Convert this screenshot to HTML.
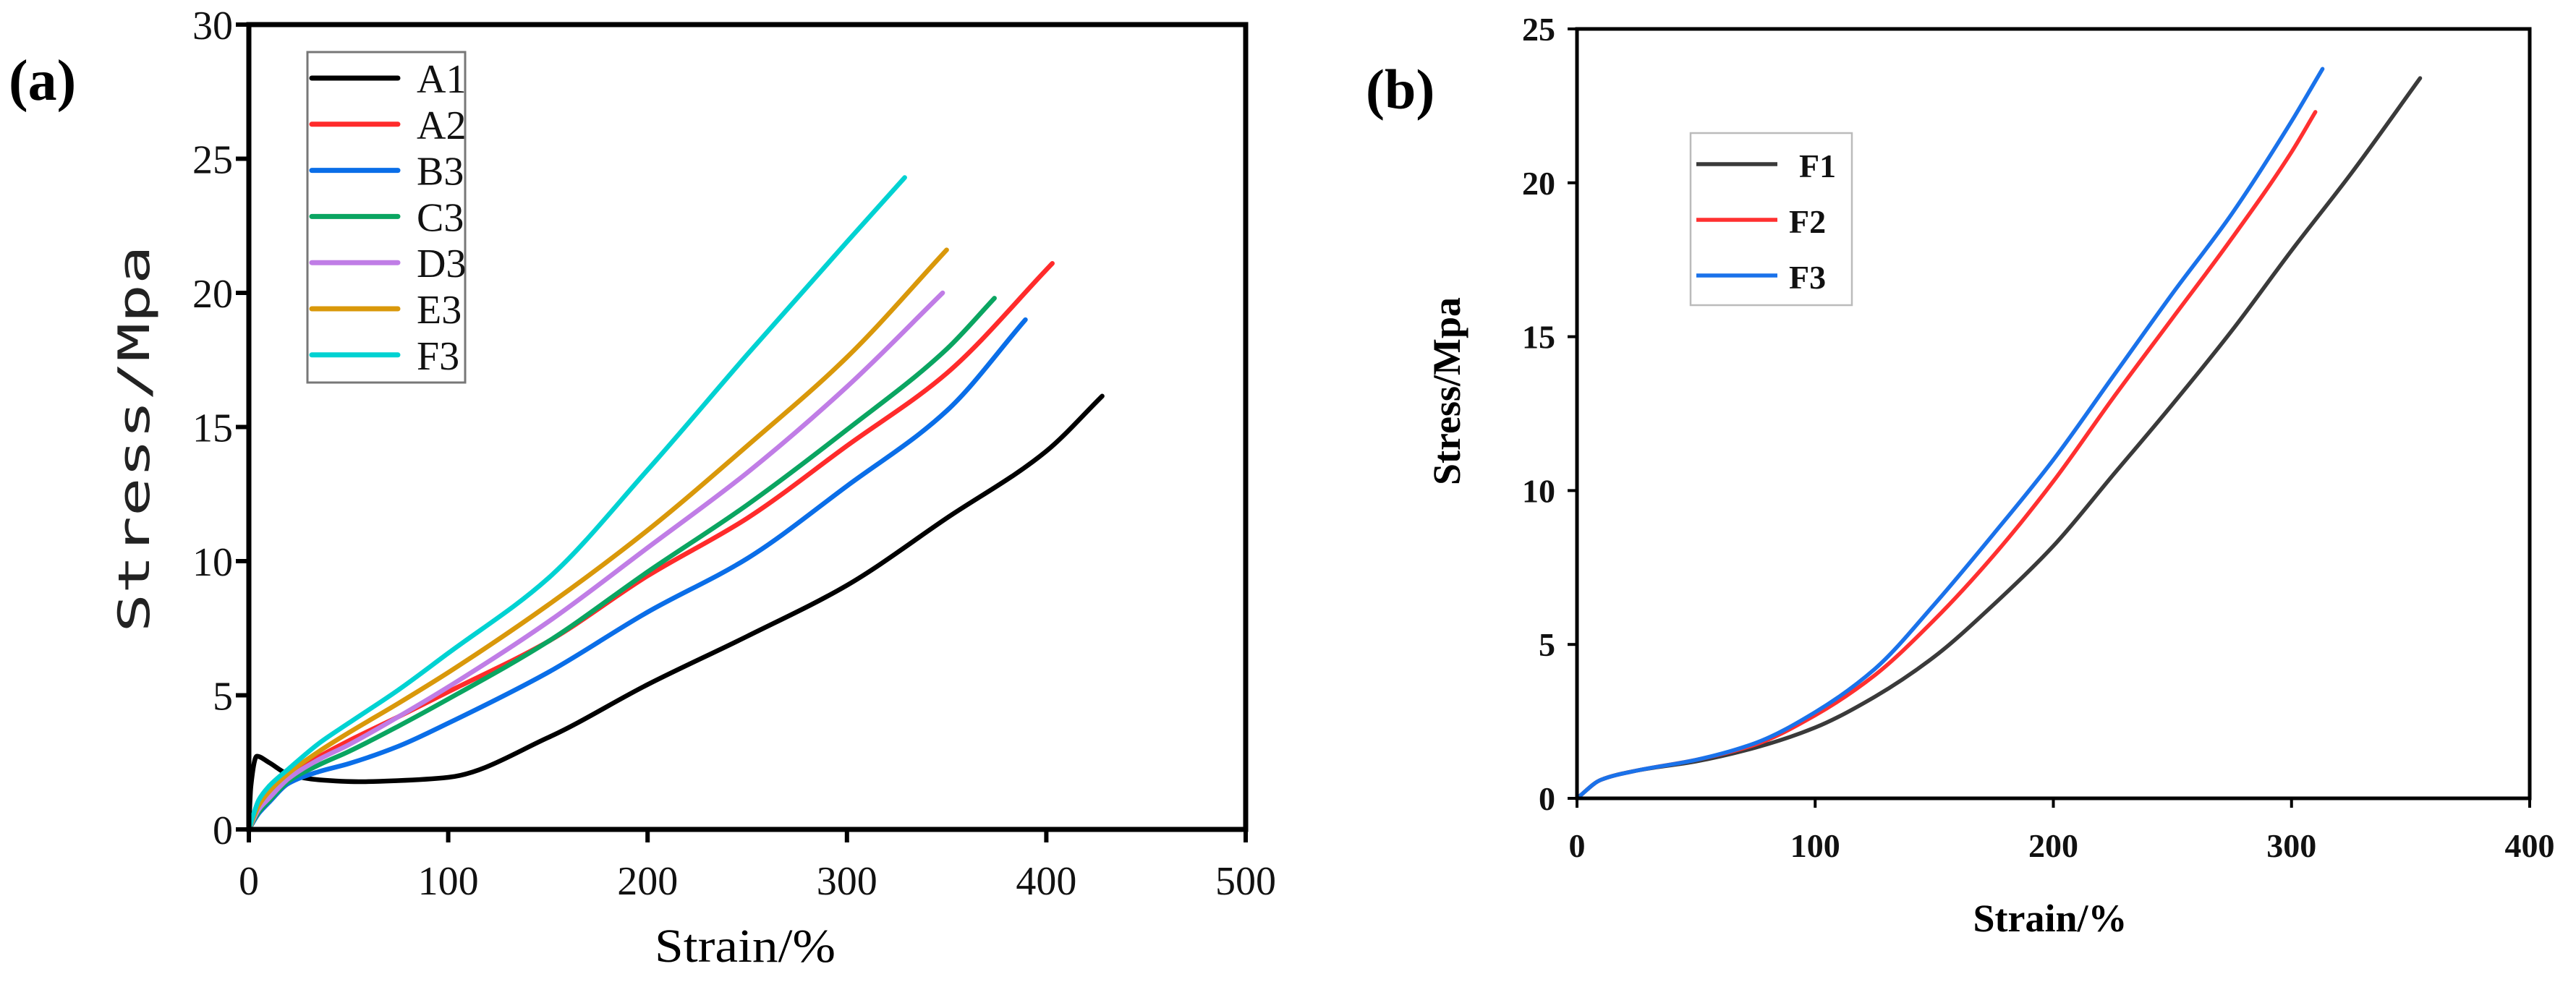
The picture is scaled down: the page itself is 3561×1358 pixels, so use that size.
<!DOCTYPE html>
<html><head><meta charset="utf-8"><style>
html,body{margin:0;padding:0;background:#fff;}
svg{display:block;}
.ta{font-family:"Liberation Serif",serif;font-size:56px;fill:#111;}
.tb{font-family:"Liberation Serif",serif;font-size:46px;font-weight:bold;fill:#111;}
</style></head><body>
<svg id="fig" width="3561" height="1358" viewBox="0 0 3561 1358" xmlns="http://www.w3.org/2000/svg">
<rect width="3561" height="1358" fill="#fff"/>
<text x="12" y="138" font-family="Liberation Serif, serif" font-weight="bold" font-size="80">(a)</text>
<text x="1888" y="150" font-family="Liberation Serif, serif" font-weight="bold" font-size="78">(b)</text>
<g id="ga"></g>
<g id="gb"></g>
<text x="1030" y="1330" text-anchor="middle" font-family="Liberation Serif, serif" font-size="66" textLength="250" lengthAdjust="spacingAndGlyphs">Strain/%</text>
<text transform="translate(206,607) rotate(-90)" text-anchor="middle" font-family="DejaVu Sans Mono, monospace" font-size="60" fill="#222" textLength="535" lengthAdjust="spacingAndGlyphs">Stress/Mpa</text>
<text x="2834" y="1288" text-anchor="middle" font-family="Liberation Serif, serif" font-weight="bold" font-size="54">Strain/%</text>
<text transform="translate(2018,541) rotate(-90)" text-anchor="middle" font-family="Liberation Serif, serif" font-weight="bold" font-size="54">Stress/Mpa</text>
</svg>
<script>
// ---- chart (a) data ----
const aXTicks = [0,100,200,300,400,500];
const aYTicks = [0,5,10,15,20,25,30];
const aNames = ["A1","A2","B3","C3","D3","E3","F3"];
const aColors = ["#000000","#ff2b2b","#0a6ee8","#0aa561","#c07de6","#d9980a","#00d2d2"];
const a1X = [0,1,4,10,20,35,55,75,100,150,200,250,300,350,400,428];
const a1Y = [0,1.6,2.73,2.5,2.05,1.85,1.78,1.82,1.94,3.42,5.4,7.2,9.1,11.6,14.1,16.15];
const a2X = [0,5,10,20,35,50,75,100,150,200,250,300,350,403];
const a2Y = [0,0.8,1.2,1.95,2.7,3.3,4.2,5.13,7.0,9.45,11.6,14.3,17.0,21.1];
const b3X = [0,5,10,20,35,50,75,100,150,200,250,300,350,389.5];
const b3Y = [0,0.6,1.0,1.72,2.15,2.45,3.1,3.96,5.85,8.1,10.1,12.8,15.6,19.0];
const c3X = [0,5,10,20,35,50,75,100,150,200,250,300,350,374];
const c3Y = [0,0.65,1.05,1.8,2.4,2.9,3.85,4.86,7.0,9.6,12.1,14.9,17.9,19.8];
const d3X = [0,5,10,20,35,50,75,100,150,200,250,300,348];
const d3Y = [0,0.75,1.15,1.9,2.6,3.15,4.2,5.31,7.73,10.5,13.3,16.5,20.0];
const e3X = [0,5,10,20,35,50,75,100,150,200,250,300,350];
const e3Y = [0,0.9,1.4,2.1,2.9,3.6,4.7,5.85,8.36,11.15,14.3,17.6,21.6];
const f3X = [0,5,10,20,35,50,75,100,150,200,250,300,329];
const f3Y = [0,1.1,1.6,2.26,3.2,3.96,5.2,6.57,9.35,13.4,17.7,21.9,24.3];
// ---- chart (b) data ----
const bXTicks = [0,100,200,300,400];
const bYTicks = [0,5,10,15,20,25];
const bNames = ["F1","F2","F3"];
const bColors = ["#3a3a3a","#ff3030","#1a72ea"];
const bF1X = [0,10,25,50,75,100,125,150,175,200,225,250,275,300,325,354];
const bF1Y = [0,0.6,0.9,1.2,1.65,2.3,3.3,4.6,6.3,8.2,10.5,12.8,15.2,17.8,20.3,23.4];
const bF2X = [0,10,25,50,75,100,125,150,175,200,225,250,275,300,310];
const bF2Y = [0,0.6,0.9,1.25,1.75,2.7,4.0,5.8,7.9,10.3,13.0,15.6,18.2,21.0,22.3];
const bF3X = [0,10,25,50,75,100,125,150,175,200,225,250,275,300,313];
const bF3Y = [0,0.6,0.9,1.25,1.8,2.8,4.2,6.3,8.6,11.0,13.7,16.4,19.0,22.0,23.7];

const NS = "http://www.w3.org/2000/svg";
function mk(tag, attrs, parent){ const e=document.createElementNS(NS,tag); for(const k in attrs) e.setAttribute(k,attrs[k]); parent.appendChild(e); return e; }
// monotone cubic (Fritsch-Carlson) in data space, emitted as bezier in pixel space
function pathD(xs, ys, sx, sy){
  const n = xs.length, d=[], m=new Array(n);
  for(let i=0;i<n-1;i++) d.push((ys[i+1]-ys[i])/(xs[i+1]-xs[i]));
  m[0]=d[0]; m[n-1]=d[n-2];
  for(let i=1;i<n-1;i++){
    if(d[i-1]*d[i]<=0) m[i]=0;
    else { const h0=xs[i]-xs[i-1], h1=xs[i+1]-xs[i]; const w1=2*h1+h0, w2=h1+2*h0; m[i]=(w1+w2)/(w1/d[i-1]+w2/d[i]); }
  }
  let s = "M"+sx(xs[0]).toFixed(1)+","+sy(ys[0]).toFixed(1);
  for(let i=0;i<n-1;i++){
    const h=xs[i+1]-xs[i];
    const c1x=xs[i]+h/3, c1y=ys[i]+m[i]*h/3, c2x=xs[i+1]-h/3, c2y=ys[i+1]-m[i+1]*h/3;
    s += " C"+sx(c1x).toFixed(1)+","+sy(c1y).toFixed(1)+" "+sx(c2x).toFixed(1)+","+sy(c2y).toFixed(1)+" "+sx(xs[i+1]).toFixed(1)+","+sy(ys[i+1]).toFixed(1);
  }
  return s;
}

// ---- chart (a) ----
(function(){
  const g = document.getElementById("ga");
  const L=344,R=1722,T=34,B=1147;
  const sx = v => L + (v-0)/(500-0)*(R-L);
  const sy = v => B - v/30*(B-T);
  const series = [[a1X,a1Y],[a2X,a2Y],[b3X,b3Y],[c3X,c3Y],[d3X,d3Y],[e3X,e3Y],[f3X,f3Y]];
  series.forEach((s,i)=>{
    const p = mk("path",{d:pathD(s[0],s[1],sx,sy),fill:"none",stroke:aColors[i],"stroke-width":6.5,"stroke-linecap":"round","stroke-linejoin":"round"},g);
    
    
  });
  const frame = mk("rect",{x:L,y:T,width:R-L,height:B-T,fill:"none",stroke:"#000","stroke-width":7},g);
  
  
  aXTicks.forEach(v=>{
    const t = mk("line",{x1:sx(v),x2:sx(v),y1:B,y2:B+18,stroke:"#000","stroke-width":6},g);
    
    
    const lb = mk("text",{x:sx(v),y:1237,"text-anchor":"middle",class:"ta"},g);
    lb.textContent = v;
    
    
  });
  aYTicks.forEach(v=>{
    const t = mk("line",{x1:L-18,x2:L,y1:sy(v),y2:sy(v),stroke:"#000","stroke-width":6},g);
    
    
    const lb = mk("text",{x:L-22,y:sy(v)+20,"text-anchor":"end",class:"ta"},g);
    lb.textContent = v;
    
    
  });
  const lg = mk("g",{},g);
  
  
  mk("rect",{x:425,y:72,width:218,height:457,fill:"#fff",stroke:"#777","stroke-width":3},lg);
  aNames.forEach((n,i)=>{
    const y = 108 + i*63.8;
    const ln = mk("line",{x1:431,x2:550,y1:y,y2:y,stroke:aColors[i],"stroke-width":7,"stroke-linecap":"round"},lg);
    
    
    const tx = mk("text",{x:576,y:y+20,class:"ta","font-size":"58"},lg);
    tx.textContent = n;
    
    
  });
})();

// ---- chart (b) ----
(function(){
  const g = document.getElementById("gb");
  const L=2180,R=3497,T=40,B=1104;
  const sx = v => L + v/400*(R-L);
  const sy = v => B - v/25*(B-T);
  const series = [[bF1X,bF1Y],[bF2X,bF2Y],[bF3X,bF3Y]];
  series.forEach((s,i)=>{
    const p = mk("path",{d:pathD(s[0],s[1],sx,sy),fill:"none",stroke:bColors[i],"stroke-width":5.5,"stroke-linecap":"round","stroke-linejoin":"round"},g);
    
    
  });
  const frame = mk("rect",{x:L,y:T,width:R-L,height:B-T,fill:"none",stroke:"#000","stroke-width":5},g);
  
  
  bXTicks.forEach(v=>{
    const t = mk("line",{x1:sx(v),x2:sx(v),y1:B,y2:B+13,stroke:"#000","stroke-width":4},g);
    
    
    const lb = mk("text",{x:sx(v),y:1185,"text-anchor":"middle",class:"tb"},g);
    lb.textContent = v;
    
    
  });
  bYTicks.forEach(v=>{
    const t = mk("line",{x1:L-13,x2:L,y1:sy(v),y2:sy(v),stroke:"#000","stroke-width":4},g);
    
    
    const lb = mk("text",{x:L-30,y:sy(v)+16,"text-anchor":"end",class:"tb"},g);
    lb.textContent = v;
    
    
  });
  const lg = mk("g",{},g);
  
  
  mk("rect",{x:2337,y:184,width:223,height:238,fill:"#fff",stroke:"#bbb","stroke-width":2.5},lg);
  bNames.forEach((n,i)=>{
    const y = 227 + i*77;
    const ln = mk("line",{x1:2345,x2:2457,y1:y,y2:y,stroke:bColors[i],"stroke-width":5.5},lg);
    
    
    const tx = mk("text",{x:i===0?2487:2473,y:y+18,class:"tb","font-size":"50"},lg);
    tx.textContent = n;
    
    
  });
})();
</script>
</body></html>
